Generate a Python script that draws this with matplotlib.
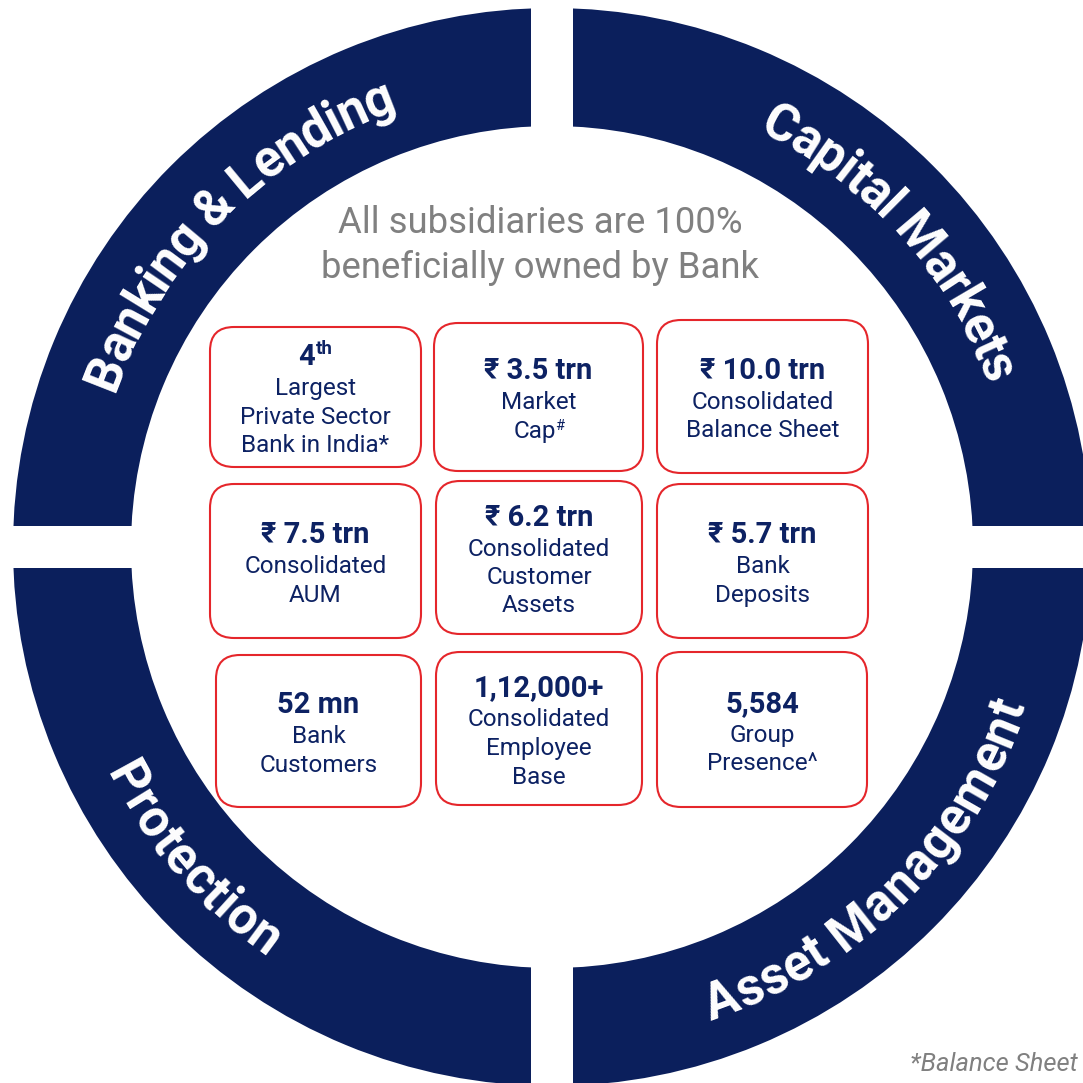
import numpy as np
import matplotlib
matplotlib.use("Agg")
import matplotlib.pyplot as plt
from matplotlib.patches import Wedge, Rectangle, FancyBboxPatch
from matplotlib.font_manager import FontProperties, findfont
from matplotlib.ft2font import FT2Font

# ---------------- data ----------------
segments = ["Banking & Lending", "Capital Markets", "Asset Management", "Protection"]
title_lines = ["All subsidiaries are 100%", "beneficially owned by Bank"]
headlines = ["4", "₹ 3.5 trn", "₹ 10.0 trn",
             "₹ 7.5 trn", "₹ 6.2 trn", "₹ 5.7 trn",
             "52 mn", "1,12,000+", "5,584"]
headline_sups = ["th", "", "", "", "", "", "", "", ""]
descriptions = [["Largest", "Private Sector", "Bank in India*"],
                ["Market", "Cap"],
                ["Consolidated", "Balance Sheet"],
                ["Consolidated", "AUM"],
                ["Consolidated", "Customer", "Assets"],
                ["Bank", "Deposits"],
                ["Bank", "Customers"],
                ["Consolidated", "Employee", "Base"],
                ["Group", "Presence^"]]
description_sups = ["", "#", "", "", "", "", "", "", ""]
footnote = "*Balance Sheet"

# ---------------- layout / style ----------------
W = 1083
CX, CY = 552, 547
R_OUT, R_IN = 539, 421
GAP = 42
NAVY = "#0b1f5c"
TXT = "#0d2263"
RED = "#e5262b"
GRAY = "#808080"
FAM = ["Roboto", "DejaVu Sans"]

# segment label placement: centre angle (deg), reading direction
seg_angle = [135, 42, -45, 221]
seg_clockwise = [True, True, False, False]
SEG_PX = 51

box_rects = [(210, 327, 211, 140), (434, 323, 209, 148), (657, 320, 211, 153),
             (210, 484, 211, 154), (436, 481, 206, 153), (657, 484, 211, 154),
             (216, 655, 205, 152), (436, 652, 206, 153), (657, 652, 210, 155)]

fig = plt.figure(figsize=(W / 100, W / 100), dpi=100)
ax = fig.add_axes([0, 0, 1, 1])
ax.set_xlim(0, W)
ax.set_ylim(W, 0)
ax.axis("off")

# ring
ax.add_patch(Wedge((CX, CY), R_OUT, 0, 360, width=R_OUT - R_IN, facecolor=NAVY,
                   edgecolor="none", zorder=1))
ax.add_patch(Rectangle((CX - GAP / 2, -10), GAP, W + 20, facecolor="white",
                       edgecolor="none", zorder=2))
ax.add_patch(Rectangle((-10, CY - GAP / 2), W + 20, GAP, facecolor="white",
                       edgecolor="none", zorder=2))

# curved labels
fp_b = FontProperties(family="Roboto", weight="bold")
ft = FT2Font(findfont(fp_b))
ft.set_size(SEG_PX, 72)


def advance(c):
    g = ft.load_char(ord(c))
    try:
        return g.linearHoriAdvance / 65536.0
    except Exception:
        return g.horiAdvance / 64.0


cap = 0.711 * SEG_PX
r_mid = (R_OUT + R_IN) / 2 + 2
for s, thc, cw in zip(segments, seg_angle, seg_clockwise):
    advs = [advance(c) for c in s]
    total = sum(advs)
    r_base = r_mid - cap / 2 if cw else r_mid + cap / 2
    pos = 0.0
    for c, a in zip(s, advs):
        sc = pos + a / 2 - total / 2
        pos += a
        if c == " ":
            continue
        d = np.degrees(sc / r_mid)
        th = thc - d if cw else thc + d
        x = CX + r_base * np.cos(np.radians(th))
        y = CY - r_base * np.sin(np.radians(th))
        rot = th - 90 if cw else th + 90
        ax.text(x, y, c, rotation=rot, rotation_mode="anchor", ha="center",
                va="baseline", color="white", fontsize=SEG_PX * 0.72,
                family=FAM, weight="bold", zorder=5)

# title
for i, line in enumerate(title_lines):
    ax.text(540, 233 + 45 * i, line, ha="center", va="baseline", color=GRAY,
            fontsize=26.3, family=FAM, zorder=5)

# boxes
fig.canvas.draw()
renderer = fig.canvas.get_renderer()


def text_w(t):
    return t.get_window_extent(renderer).width


def sup_text(cx, yb, main, sup, size, sup_size, weight, rise, sep):
    t1 = ax.text(cx, yb, main, ha="left", va="baseline", color=TXT,
                 fontsize=size, family=FAM, weight=weight, zorder=6)
    if not sup:
        t1.set_ha("center")
        return
    t2 = ax.text(cx, yb - rise, sup, ha="left", va="baseline", color=TXT,
                 fontsize=sup_size, family=FAM, weight=weight, zorder=6)
    w1, w2 = text_w(t1), text_w(t2)
    x0 = cx - (w1 + w2 + sep) / 2
    t1.set_x(x0)
    t2.set_x(x0 + w1 + sep)


HEAD_PT, SUB_PT = 21, 17.5
for k, (rect, head, hsup, desc, dsup) in enumerate(
        zip(box_rects, headlines, headline_sups, descriptions, description_sups)):
    x0, y0, w, h = rect
    ax.add_patch(FancyBboxPatch((x0, y0), w, h,
                                boxstyle="round,pad=0,rounding_size=24",
                                facecolor="white", edgecolor=RED, linewidth=1.5,
                                zorder=4))
    cx = x0 + w / 2
    n = len(desc)
    span = 32 + 28.5 * (n - 1)
    hc = y0 + h / 2 + 2 - span / 2
    sup_text(cx, hc + 10.5, head, hsup, HEAD_PT, 13.5, "bold", 11, 1)
    for j, line in enumerate(desc):
        yc = hc + 32 + 28.5 * j
        sup = dsup if j == n - 1 else ""
        sup_text(cx, yc + 8.5, line, sup, SUB_PT, 10.5, "normal", 8, -1)

# footnote
ax.text(1078, 1071, footnote, ha="right", va="baseline", color=GRAY,
        fontsize=18.4, family=FAM, style="italic", zorder=5)

fig.savefig("out.png", dpi=100)
